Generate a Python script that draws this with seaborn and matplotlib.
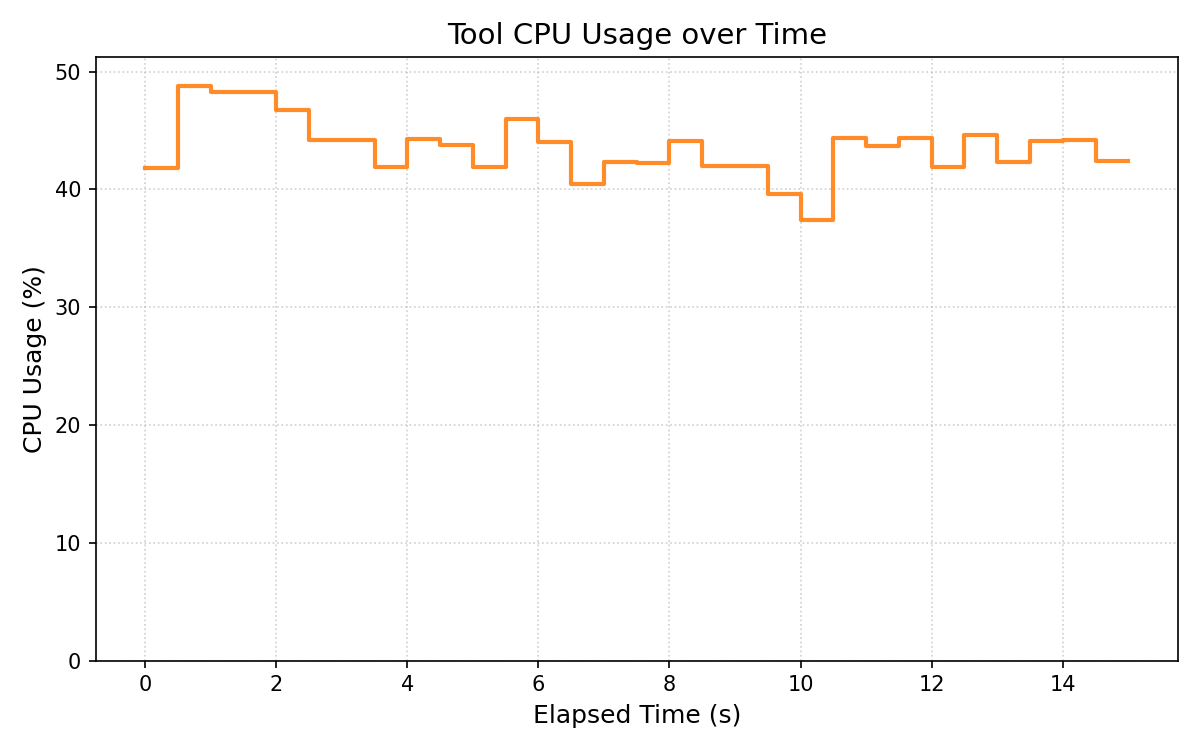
import pandas as pd
import matplotlib.pyplot as plt
import seaborn as sns
import numpy as np

# Sampled CPU usage, one sample every 0.5 s (last value held until the end)
elapsed_s = [0.0, 0.5, 1.0, 1.5, 2.0, 2.5, 3.0, 3.5, 4.0, 4.5,
             5.0, 5.5, 6.0, 6.5, 7.0, 7.5, 8.0, 8.5, 9.0, 9.5,
             10.0, 10.5, 11.0, 11.5, 12.0, 12.5, 13.0, 13.5, 14.0, 14.5, 15.0]
cpu_pct = [41.8, 48.8, 48.3, 48.3, 46.7, 44.2, 44.2, 41.9, 44.3, 43.8,
           41.9, 46.0, 44.0, 40.5, 42.3, 42.2, 44.1, 42.0, 42.0, 39.6,
           37.4, 44.4, 43.7, 44.4, 41.9, 44.6, 42.3, 44.1, 44.2, 42.4, 42.4]

df = pd.DataFrame({"time": elapsed_s, "cpu": cpu_pct})

fig, ax = plt.subplots(figsize=(8, 5), dpi=150)
sns.lineplot(data=df, x="time", y="cpu", ax=ax, color="#ff8c28",
             linewidth=2, drawstyle="steps-post")

ax.set_ylim(0, df["cpu"].max() * 1.05)
ax.grid(True, linestyle=":", alpha=0.6)

ax.set_title("Tool CPU Usage over Time", fontsize=14)
ax.set_xlabel("Elapsed Time (s)", fontsize=12)
ax.set_ylabel("CPU Usage (%)", fontsize=12)

plt.tight_layout()
plt.savefig("out.png")
